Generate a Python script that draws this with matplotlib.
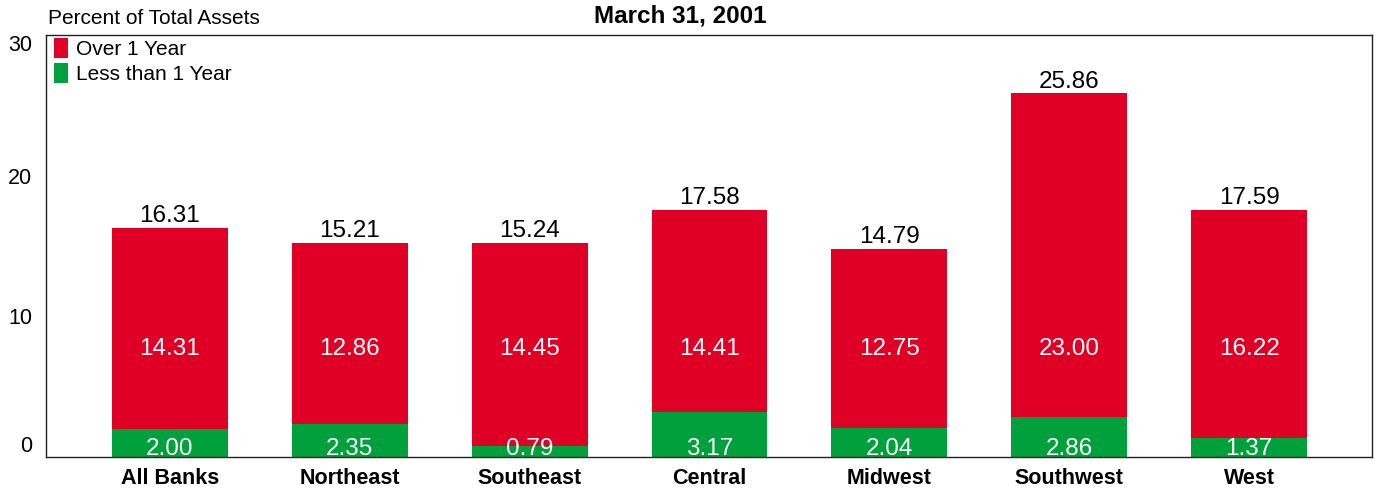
import numpy as np
import matplotlib.pyplot as plt

plt.rcParams['font.family'] = ['Liberation Sans', 'DejaVu Sans']

regions = ['All Banks', 'Northeast', 'Southeast', 'Central', 'Midwest', 'Southwest', 'West']
less_1yr = [2.00, 2.35, 0.79, 3.17, 2.04, 2.86, 1.37]
over_1yr = [14.31, 12.86, 14.45, 14.41, 12.75, 23.00, 16.22]
totals = [16.31, 15.21, 15.24, 17.58, 14.79, 25.86, 17.59]

red = '#E00025'
green = '#00A03C'

fig = plt.figure(figsize=(13.79, 4.91), dpi=100)
ax = fig.add_axes([0.0334, 0.0692, 0.9615, 0.8595])

x = np.arange(len(regions))
w = 0.644
ax.bar(x, over_1yr, w, bottom=less_1yr, color=red, label='Over 1 Year')
ax.bar(x, less_1yr, w, color=green, label='Less than 1 Year')

for i in range(len(regions)):
    ax.text(x[i], totals[i] + 0.05, f'{totals[i]:.2f}', ha='center', va='bottom', fontsize=17.5)
    ax.text(x[i], 7.65, f'{over_1yr[i]:.2f}', ha='center', va='center', fontsize=17.5, color='white')
    ax.text(x[i], 0.6, f'{less_1yr[i]:.2f}', ha='center', va='center', fontsize=17.5, color='white')

ax.set_xlim(-0.689, 6.683)
ax.set_ylim(0, 30)
ax.set_yticks([0, 10, 20, 30])
ax.set_xticks(x)
ax.set_xticklabels(regions, fontsize=15, fontweight='bold')
ax.tick_params(axis='both', length=0, labelsize=15.5)
ax.tick_params(axis='x', pad=8)
ax.tick_params(axis='y', pad=10)
ylabels = ax.get_yticklabels()
ylabels[0].set_va('bottom')
ylabels[-1].set_va('top')
for s in ax.spines.values():
    s.set_linewidth(1.0)
    s.set_color('#222222')

ax.legend(loc='upper left', frameon=False, fontsize=15, handlelength=0.65, handleheight=1.05,
          handletextpad=0.4, labelspacing=0.2, borderaxespad=0.0, bbox_to_anchor=(0.0, 1.012))

fig.text(0.035, 0.963, 'Percent of Total Assets', fontsize=15, ha='left', va='center')
fig.text(0.493, 0.968, 'March 31, 2001', fontsize=17.5, fontweight='bold', ha='center', va='center')

fig.savefig('out.png', dpi=100)
